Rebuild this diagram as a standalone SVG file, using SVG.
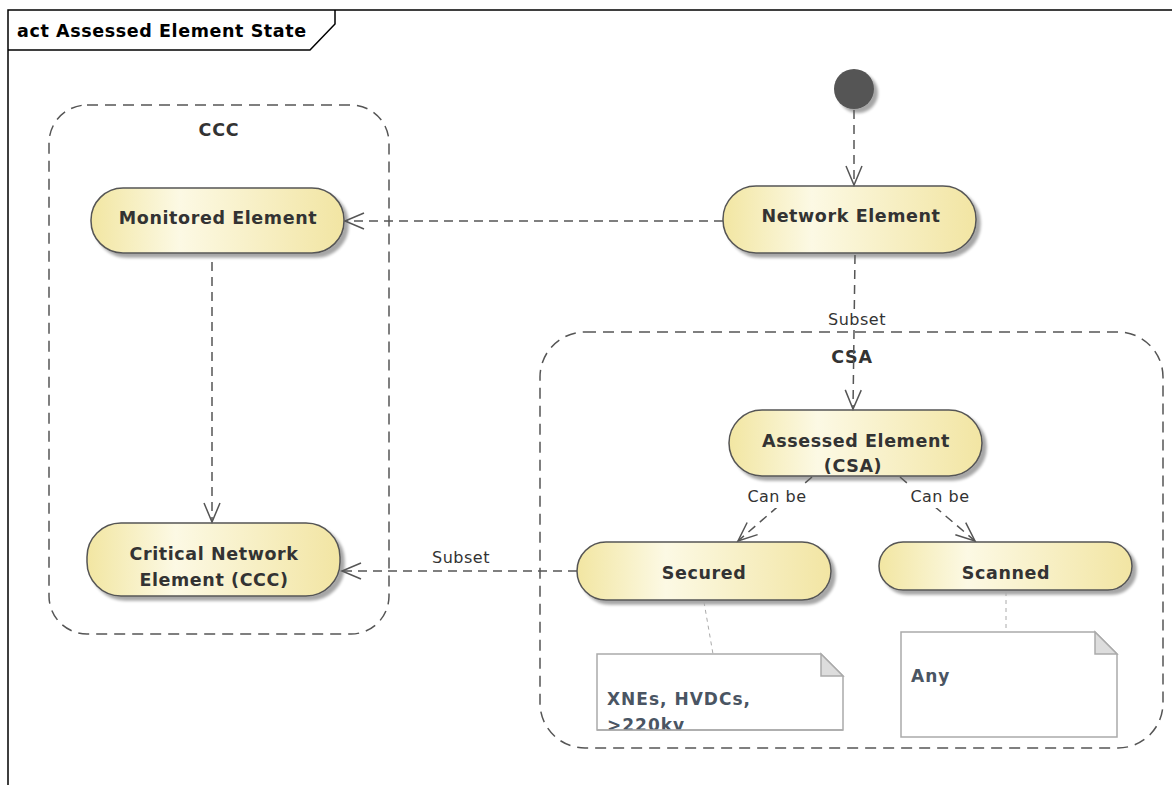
<svg xmlns="http://www.w3.org/2000/svg" width="1172" height="787" viewBox="0 0 1172 787">
  <defs>
    <style>
      .frame { fill: none; stroke: #000; stroke-width: 1.5; }
      .title { font-family: "DejaVu Sans", Verdana, sans-serif; font-weight: bold; font-size: 17.5px; fill: #000; letter-spacing: 0.6px; }
      .group { fill: none; stroke: #555; stroke-width: 1.5; stroke-dasharray: 11 7; }
      .group-label { font-family: "DejaVu Sans", Verdana, sans-serif; font-weight: bold; font-size: 17.5px; fill: #333; text-anchor: middle; letter-spacing: 0.8px; }
      .state { fill: url(#stateFill); stroke: #555; stroke-width: 1.5; filter: url(#shadow); }
      .state-label { font-family: "DejaVu Sans", Verdana, sans-serif; font-weight: bold; font-size: 17.5px; fill: #333; text-anchor: middle; letter-spacing: 0.6px; }
      .edge { fill: none; stroke: #555; stroke-width: 1.5; stroke-dasharray: 9 6; }
      .edge-label { font-family: "DejaVu Sans", Verdana, sans-serif; font-size: 16px; fill: #333; text-anchor: middle; letter-spacing: 0.5px; }
      .note { fill: #fff; stroke: #aaa; stroke-width: 1.5; }
      .fold { fill: #ddd; stroke: #aaa; stroke-width: 1.5; }
      .note-link { fill: none; stroke: #aaa; stroke-width: 1; stroke-dasharray: 4 4; }
      .note-text { font-family: "DejaVu Sans", Verdana, sans-serif; font-weight: bold; font-size: 17px; fill: #4a5563; letter-spacing: 1px; }
    </style>
    <linearGradient id="stateFill" x1="0" y1="0" x2="1" y2="0">
      <stop offset="0" stop-color="#f2e6a2"/>
      <stop offset="0.35" stop-color="#fcf9e4"/>
      <stop offset="1" stop-color="#f2e5a3"/>
    </linearGradient>
    <filter id="shadow" x="-10%" y="-20%" width="130%" height="160%">
      <feGaussianBlur in="SourceAlpha" stdDeviation="1.5"/>
      <feOffset dx="4" dy="4" result="off"/>
      <feComponentTransfer><feFuncA type="linear" slope="0.35"/></feComponentTransfer>
      <feMerge><feMergeNode/><feMergeNode in="SourceGraphic"/></feMerge>
    </filter>
    <marker id="open" markerUnits="userSpaceOnUse" markerWidth="24" markerHeight="20" viewBox="-21 -10 24 20" refX="0" refY="0" orient="auto">
      <path d="M-19,-8 L0,0 L-19,8" fill="none" stroke="#555" stroke-width="1.5"/>
    </marker>
    <clipPath id="noteClip">
      <rect x="597" y="654" width="246" height="76"/>
    </clipPath>
  </defs>

  <!-- diagram frame with name tab -->
  <g id="frame">
    <path class="frame" d="M1172,10 H8 V785"/>
    <path class="frame" d="M8,50 H310 L335,24 V10"/>
    <text class="title" x="17" y="37">act Assessed Element State</text>
  </g>

  <!-- composite states -->
  <g id="group-ccc">
    <rect class="group" x="49" y="105" width="340" height="529" rx="38" ry="38"/>
    <text class="group-label" x="219" y="136">CCC</text>
  </g>
  <g id="group-csa">
    <rect class="group" x="540" y="332" width="623" height="416" rx="45" ry="45"/>
    <text class="group-label" x="852" y="363">CSA</text>
  </g>

  <!-- initial pseudo-state -->
  <g id="initial">
    <circle cx="854" cy="89" r="20" fill="#555" filter="url(#shadow)"/>
  </g>

  <!-- states -->
  <g id="network-element">
    <rect class="state" x="723" y="186" width="253" height="67" rx="33" ry="33"/>
    <text class="state-label" x="851" y="222">Network Element</text>
  </g>
  <g id="monitored-element">
    <rect class="state" x="91" y="188" width="253" height="65" rx="32" ry="32"/>
    <text class="state-label" x="218" y="224">Monitored Element</text>
  </g>
  <g id="critical-network-element">
    <rect class="state" x="87" y="523" width="253" height="73" rx="34" ry="34"/>
    <text class="state-label" x="214" y="560">Critical Network</text>
    <text class="state-label" x="214" y="586">Element (CCC)</text>
  </g>
  <g id="assessed-element">
    <rect class="state" x="729" y="410" width="253" height="66" rx="33" ry="33"/>
    <text class="state-label" x="856" y="447">Assessed Element</text>
    <text class="state-label" x="853" y="472">(CSA)</text>
  </g>
  <g id="secured">
    <rect class="state" x="577" y="542" width="254" height="58" rx="29" ry="29"/>
    <text class="state-label" x="704" y="579">Secured</text>
  </g>
  <g id="scanned">
    <rect class="state" x="879" y="542" width="253" height="48" rx="24" ry="24"/>
    <text class="state-label" x="1006" y="579">Scanned</text>
  </g>

  <!-- notes -->
  <g id="note-secured">
    <path class="note" d="M597,654 H821 L843,676 V730 H597 Z"/>
    <path class="fold" d="M821,654 V676 H843 Z"/>
    <g clip-path="url(#noteClip)">
      <text class="note-text" x="607" y="705">XNEs, HVDCs,</text>
      <text class="note-text" x="607" y="731">&gt;220kv</text>
    </g>
    <path class="note" d="M597,730 H843" fill="none"/>
  </g>
  <g id="note-scanned">
    <path class="note" d="M901,632 H1095 L1117,654 V737 H901 Z"/>
    <path class="fold" d="M1095,632 V654 H1117 Z"/>
    <text class="note-text" x="911" y="682">Any</text>
  </g>

  <!-- transitions -->
  <g id="connectors">
    <path class="edge" d="M854,110 V185" marker-end="url(#open)"/>
    <path class="edge" d="M723,221 H345" marker-end="url(#open)"/>
    <path class="edge" d="M212,262 V522" marker-end="url(#open)"/>

    <path class="edge" d="M855,255 L853,409" marker-end="url(#open)"/>
    <rect x="822" y="309" width="70" height="21" fill="#fff"/>
    <text class="edge-label" x="857" y="325">Subset</text>

    <path class="edge" d="M812,477 L738,541" marker-end="url(#open)"/>
    <rect x="742" y="485" width="70" height="23" fill="#fff"/>
    <text class="edge-label" x="777" y="502">Can be</text>

    <path class="edge" d="M900,477 L975,541" marker-end="url(#open)"/>
    <rect x="904" y="485" width="72" height="23" fill="#fff"/>
    <text class="edge-label" x="940" y="502">Can be</text>

    <path class="edge" d="M577,571 H342" marker-end="url(#open)"/>
    <text class="edge-label" x="461" y="563">Subset</text>

    <path class="note-link" d="M704,602 L713,654"/>
    <path class="note-link" d="M1006,592 V632"/>
  </g>
</svg>
